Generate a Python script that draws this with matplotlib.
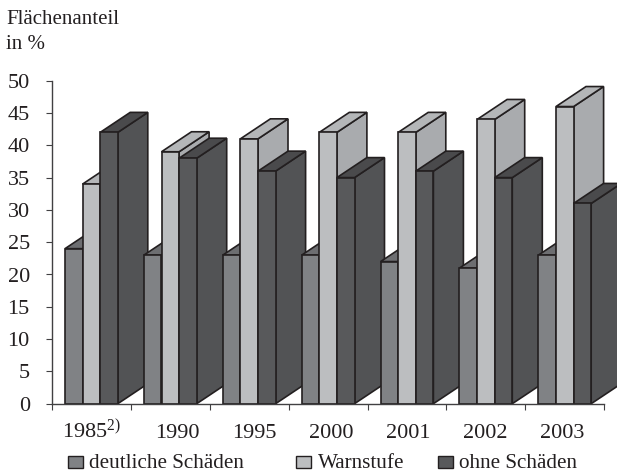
import matplotlib
matplotlib.use("Agg")
import matplotlib.pyplot as plt
from matplotlib.patches import Polygon, Rectangle

plt.rcParams['font.family'] = ['Liberation Serif', 'DejaVu Serif']
plt.rcParams['mathtext.fontset'] = 'custom'
plt.rcParams['mathtext.rm'] = 'Liberation Serif'
plt.rcParams['mathtext.default'] = 'regular'

years = ["1985$^{2)}$", "1990", "1995", "2000", "2001", "2002", "2003"]
series_names = ["deutliche Schäden", "Warnstufe", "ohne Schäden"]
deutliche = [24, 23, 23, 23, 22, 21, 23]
warnstufe = [34, 39, 41, 42, 42, 44, 46]
ohne = [42, 38, 36, 35, 36, 35, 31]
series = [deutliche, warnstufe, ohne]

label_shift = [0, 0.095, 0.06, 0.045, 0.01, -0.01, -0.04]
front = ["#808285", "#bcbec0", "#58595b"]
side = ["#6d6e71", "#a9abae", "#525355"]
top = ["#6d6e71", "#b4b6b8", "#4a4a4c"]
edge = "#231f20"

W, H = 617, 473
fig = plt.figure(figsize=(W / 100, H / 100), dpi=100)
L, R, T, B = 52, 604.3, 80.7, 403.7
ax = fig.add_axes([L / W, 1 - B / H, (R - L) / W, (B - T) / H])
ax.set_xlim(0, len(years))
ax.set_ylim(0, 50)

px_x = (R - L) / len(years)
px_y = (B - T) / 50
bw = 17.6 / px_x
off = 13 / px_x
dx = 30 / px_x
dy = 20 / px_y
lw = 1.2

for g in range(len(years)):
    for s, vals in enumerate(series):
        v = vals[g]
        x0 = g + off + s * bw
        x1 = x0 + bw
        kw = dict(ec=edge, lw=lw, clip_on=False, joinstyle='miter')
        ax.add_patch(Polygon([(x1, 0), (x1 + dx, dy), (x1 + dx, v + dy), (x1, v)], fc=side[s], zorder=3, **kw))
        ax.add_patch(Polygon([(x0, v), (x0 + dx, v + dy), (x1 + dx, v + dy), (x1, v)], fc=top[s], zorder=3, **kw))
        ax.add_patch(Rectangle((x0, 0), bw, v, fc=front[s], zorder=3, **kw))

for sp in ("top", "right"):
    ax.spines[sp].set_visible(False)
for sp in ("left", "bottom"):
    ax.spines[sp].set_color("#414042")
    ax.spines[sp].set_linewidth(1.0)
    ax.spines[sp].set_zorder(5)

ax.set_yticks(range(0, 51, 5))
ax.tick_params(axis='y', length=4.5, width=0.8, color="#414042", labelsize=16,
               labelcolor="#231f20", pad=11.5)
ax.set_xticks(range(len(years) + 1))
ax.set_xticklabels([])
ax.tick_params(axis='x', which='major', length=4, width=0.8, color="#414042", direction='out')
ax.set_xticks([g + 0.5 + d for g, d in enumerate(label_shift)], minor=True)
ax.set_xticklabels(years, minor=True, va='baseline')
ax.tick_params(axis='x', which='minor', length=0, labelsize=16, labelcolor="#231f20", pad=25)

fig.text(6 / W, 1 - 24 / H, "Flächenanteil", fontsize=15, color="#231f20", va='baseline')
fig.text(6 / W, 1 - 49 / H, "in %", fontsize=15, color="#231f20", va='baseline')

for name, fc, sx, tx in zip(series_names, front, [68, 296, 438], [89, 318, 459]):
    fig.add_artist(Rectangle((sx / W, 1 - 468 / H), 15 / W, 12 / H, fc=fc, ec=edge, lw=1.0,
                             transform=fig.transFigure))
    fig.text(tx / W, 1 - 467.5 / H, name, fontsize=15.2, color="#231f20", va='baseline')

fig.savefig("out.png", dpi=100)
